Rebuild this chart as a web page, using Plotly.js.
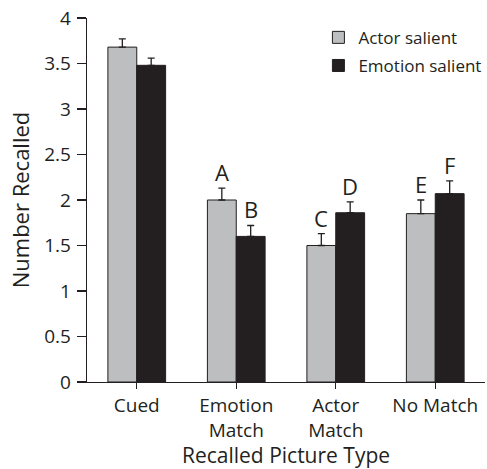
<!DOCTYPE html>
<html><head><meta charset="utf-8">
<script src="https://cdn.plot.ly/plotly-3.0.1.min.js"></script>
<style>body{margin:0;padding:0;background:#fff}#chart{width:487px;height:469px}</style>
</head><body><div id="chart"></div>
<script>
const categories = ["Cued", "Emotion<br>Match", "Actor<br>Match", "No Match"];
const actorSalient = [3.68, 2.00, 1.50, 1.85];
const actorErr = [0.09, 0.13, 0.13, 0.15];
const emotionSalient = [3.48, 1.60, 1.86, 2.07];
const emotionErr = [0.08, 0.12, 0.12, 0.14];
const actorLetters = ["", "A", "C", "E"];
const emotionLetters = ["", "B", "D", "F"];
const yTicks = [0, 0.5, 1, 1.5, 2, 2.5, 3, 3.5, 4];

const ink = "#231f20";
const font = "Open Sans, sans-serif";

const t1 = {
  type: "bar", name: "Actor salient", x: [0,1,2,3], y: actorSalient,
  marker: {color: "#bcbec0", line: {color: ink, width: 1}},
  error_y: {type: "data", array: actorErr, arrayminus: actorErr.map(() => 0), symmetric: false, color: ink, thickness: 1.3, width: 3.5},
  legendgroup: "a"
};
const t2 = {
  type: "bar", name: "Emotion salient", x: [0,1,2,3], y: emotionSalient,
  marker: {color: ink, line: {color: ink, width: 1}},
  error_y: {type: "data", array: emotionErr, arrayminus: emotionErr.map(() => 0), symmetric: false, color: ink, thickness: 1.3, width: 3.5},
  legendgroup: "b"
};

const off = 0.145;
const annotations = [];
categories.forEach((c, i) => {
  if (actorLetters[i]) annotations.push({x: i - off, y: actorSalient[i] + actorErr[i], text: actorLetters[i], showarrow: false, yanchor: "bottom", yshift: -1, font: {family: font, size: 22, color: ink}});
  if (emotionLetters[i]) annotations.push({x: i + off, y: emotionSalient[i] + emotionErr[i], text: emotionLetters[i], showarrow: false, yanchor: "bottom", yshift: -1, font: {family: font, size: 22, color: ink}});
});

const layout = {
  width: 487, height: 469,
  margin: {l: 87, r: 1, t: 18, b: 87},
  paper_bgcolor: "#fff", plot_bgcolor: "#fff",
  font: {family: font, color: ink},
  barmode: "group", bargap: 0.42, bargroupgap: 0,
  showlegend: true,
  legend: {x: 0.58, y: 0.995, xanchor: "left", yanchor: "top", font: {family: font, size: 17, color: ink}, tracegroupgap: 3, bgcolor: "rgba(0,0,0,0)"},
  xaxis: {
    range: [-0.5, 3.5], tickmode: "array", tickvals: [0,1,2,3], ticktext: categories,
    tickson: "boundaries", ticks: "outside", ticklen: 6, tickcolor: ink, tickwidth: 1.3,
    showline: true, linecolor: ink, linewidth: 1.3, showgrid: false, zeroline: false,
    tickfont: {family: font, size: 19, color: ink},
    title: {text: "Recalled Picture Type", font: {family: font, size: 21, color: ink}, standoff: 6}
  },
  yaxis: {
    range: [0, 4], tickmode: "array", tickvals: yTicks, ticktext: yTicks.map(String),
    ticks: "outside", ticklen: 9, tickcolor: ink, tickwidth: 1.3, ticklabelstandoff: 2,
    showline: true, linecolor: ink, linewidth: 1.3, showgrid: false, zeroline: false,
    tickfont: {family: font, size: 19, color: ink},
    title: {text: "Number Recalled", font: {family: font, size: 22, color: ink}, standoff: 8}
  },
  annotations: annotations
};

Plotly.newPlot("chart", [t1, t2], layout, {displayModeBar: false, staticPlot: true});
</script></body></html>
